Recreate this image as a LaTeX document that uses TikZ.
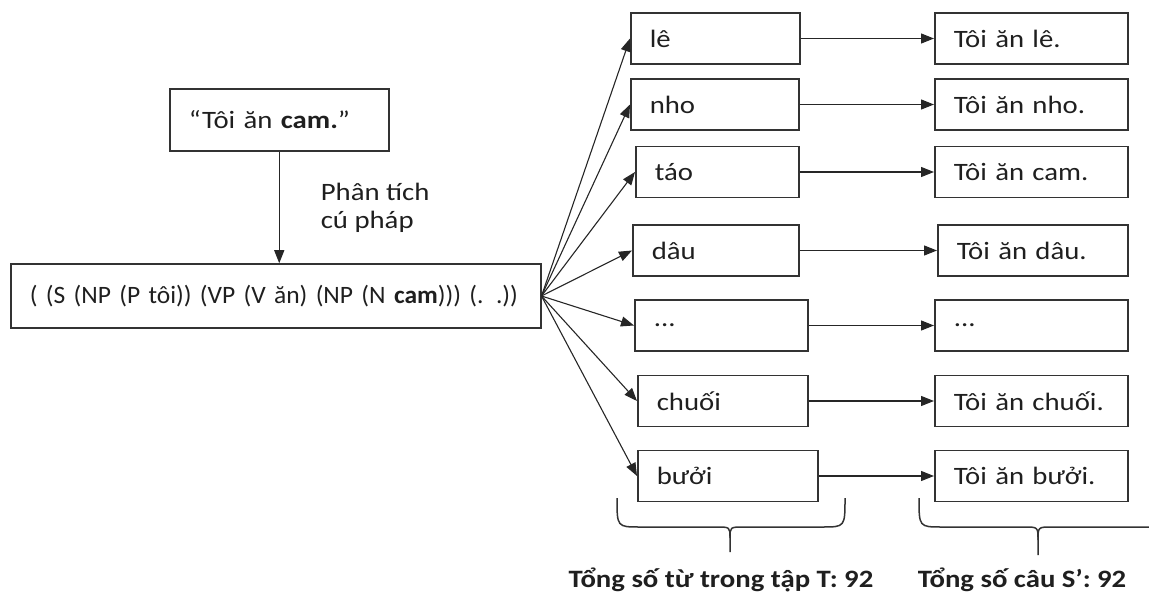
\documentclass[tikz,border=0pt]{standalone}
\usepackage{fontspec}
\setmainfont{Carlito}[FakeStretch=1.15]
\newfontfamily\treefont{Carlito}[FakeStretch=1.02]
\usetikzlibrary{arrows.meta}

\begin{document}
\begin{tikzpicture}[x=0.5pt, y=-0.5pt,
  every node/.style={font=\fontsize{12.5pt}{14pt}\selectfont, text=black!88},
  box/.style={draw=black!80, line width=0.75pt, minimum height=#1, inner xsep=9.5pt, align=left, anchor=west, inner ysep=0pt},
  box/.default=25.5pt,
  arr/.style={draw=black!85, line width=0.55pt, -{Triangle[length=6.5pt, width=5pt]}},
  brace/.style={draw=black!80, line width=0.75pt},
  total/.style={font=\fontsize{12.5pt}{14pt}\selectfont\bfseries, anchor=base}
]
\useasboundingbox (0,0) rectangle (1149,598);
\clip (0,0) rectangle (1149,598);

% input sentence and its parse
\node[box=31pt, text width=90.5pt] (sent) at (169,120) {“Tôi ăn \textbf{cam.}”};
\node[box=32pt, text width=246pt, font=\fontsize{12.5pt}{14pt}\treefont] (parse) at (10,296) {( (S (NP (P tôi)) (VP (V ăn) (NP (N \textbf{cam}))) (. .))};
\draw[arr] (sent.south) -- node[right=20.5pt, inner sep=0pt, align=left] {Phân tích\\cú pháp} (sent.south |- parse.north);

% candidate words
\node[box, text width=65.5pt] (w1) at (630,38.5)  {lê};
\node[box, text width=65pt]   (w2) at (630,104.5) {nho};
\node[box, text width=62.5pt] (w3) at (635,172)   {táo};
\node[box, text width=64pt]   (w4) at (632,250.5) {dâu};
\node[box, text width=67.5pt] (w5) at (634,325.5) {...};
\node[box, text width=66pt]   (w6) at (637,401)   {chuối};
\node[box, text width=71pt]   (w7) at (637,476)   {bưởi};

% generated sentences
\node[box, text width=77.5pt] (s1) at (934,38.5)  {Tôi ăn lê.};
\node[box, text width=77.5pt] (s2) at (934,104.5) {Tôi ăn nho.};
\node[box, text width=77.5pt] (s3) at (934,172)   {Tôi ăn cam.};
\node[box, text width=76pt]   (s4) at (937,250.5) {Tôi ăn dâu.};
\node[box, text width=77.5pt] (s5) at (934,325.5) {...};
\node[box, text width=77.5pt] (s6) at (934,401)   {Tôi ăn chuối.};
\node[box, text width=77.5pt] (s7) at (934,476)   {Tôi ăn bưởi.};

% fan-out from the parse tree and substitution arrows
\foreach \i in {1,...,7} {
  \draw[arr] (parse.east) -- (w\i.west);
  \draw[arr] (w\i.east) -- (s\i.west);
}

% braces under the two columns
\draw[brace] (617,498) .. controls (617,527) .. (640,527) -- (716,527)
  .. controls (730,527) .. (730,538) -- (730,552);
\draw[brace] (730,538) .. controls (730,527) .. (744,527) -- (822,527)
  .. controls (845,527) .. (845,498);
\draw[brace] (919,498) .. controls (919,527) .. (942,527) -- (1024,527)
  .. controls (1038,527) .. (1038,540) -- (1038,555);
\draw[brace] (1038,540) .. controls (1038,527) .. (1052,527) -- (1149,527);

\node[total] (tw) at (721,587) {Tổng số từ trong tập T: 92};
\node[total] (ts) at (1022,587) {Tổng số câu S’: 92};
\end{tikzpicture}
\end{document}
